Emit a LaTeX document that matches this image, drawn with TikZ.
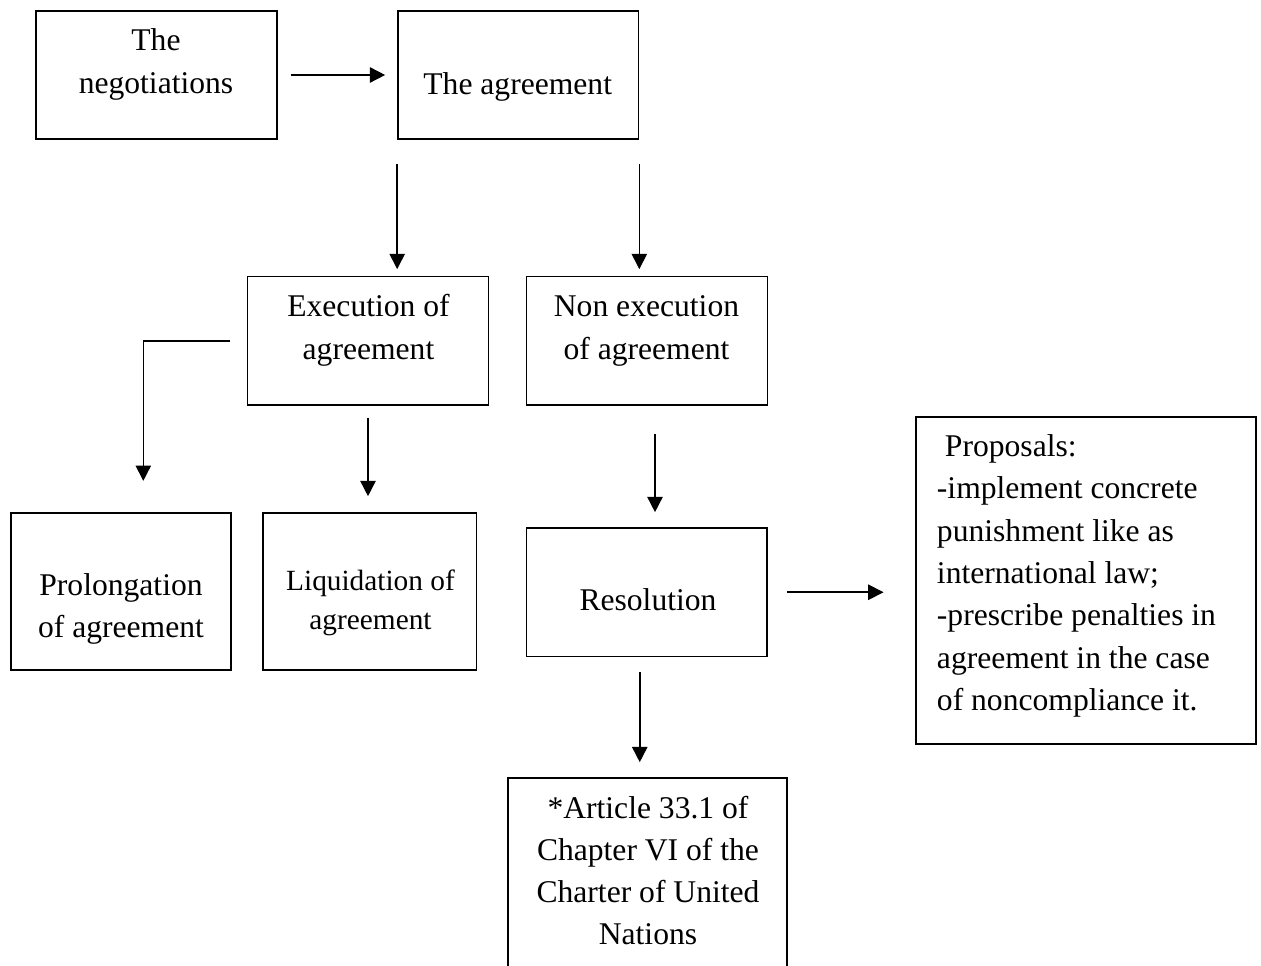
\documentclass[tikz,border=0pt]{standalone}
\usepackage{fontspec}
\setmainfont{Liberation Serif}
\usetikzlibrary{arrows.meta,calc}
\newcommand\ctr[1]{\vtop{\halign{\hfil##\hfil\cr#1\crcr}}}
\newcommand\lft[1]{\vtop{\halign{##\hfil\cr#1\crcr}}}
\begin{document}
\begin{tikzpicture}[x=0.75pt,y=-0.75pt,
  box/.style={draw, line width=1.2pt, rectangle, inner sep=0pt},
  txt/.style={inner sep=0pt, anchor=base, font=\fontsize{23.7}{31.7}\selectfont},
  sml/.style={inner sep=0pt, anchor=base, font=\fontsize{22}{29.3}\selectfont},
  arr/.style={line width=1.2pt, -{Triangle[length=11.5pt,width=11.5pt]}}]
\useasboundingbox (0,0) rectangle (1261,966);
\clip (0,0) rectangle (1261,966);
% boxes
\node[box, minimum width=180.75pt, minimum height=96pt] (neg) at (156.5,75) {};
\node[box, minimum width=180.4pt, minimum height=96pt] (agr) at (518.25,75) {};
\node[box, minimum width=180.75pt, minimum height=96.4pt] (exe) at (368,340.75) {};
\node[box, minimum width=180.75pt, minimum height=96.4pt] (non) at (647,340.75) {};
\node[box, minimum width=165pt, minimum height=117.75pt] (pro) at (121,591.5) {};
\node[box, minimum width=160.1pt, minimum height=117.75pt] (liq) at (369.75,591.5) {};
\node[box, minimum width=180.4pt, minimum height=96.4pt] (res) at (646.75,592.25) {};
\node[box, minimum width=255pt, minimum height=245.25pt] (prop) at (1086,580.5) {};
\node[box, minimum width=209.25pt, minimum height=166.5pt] (art) at (647.5,889) {};
% texts
\node[txt] (negt) at (156,51) {\ctr{The\cr negotiations}};
\node[txt] (agrt) at (517.7,95) {The agreement};
\node[txt] (exet) at (368.5,317) {\ctr{Execution of\cr agreement}};
\node[txt] (nont) at (646.5,317) {\ctr{Non execution\cr of agreement}};
\node[txt] (prot) at (121,595) {\ctr{Prolongation\cr of agreement}};
\node[sml] (liqt) at (370.5,590) {\ctr{Liquidation of\cr agreement}};
\node[txt] (rest) at (648,610.7) {Resolution};
\node[txt, anchor=base west] (propt) at (936.7,456.7) {\lft{\kern6pt Proposals:\cr -implement concrete\cr punishment like as\cr international law;\cr -prescribe penalties in\cr agreement in the case\cr of noncompliance it.}};
\node[txt] (artt) at (648,818) {\ctr{*Article 33.1 of\cr Chapter VI of the\cr Charter of United\cr Nations}};
% connectors
\draw[arr, shorten <=9.75pt, shorten >=9pt] (neg.east) -- (agr.west);
\draw[arr, shorten <=18pt, shorten >=4.9pt] (agr.south west) -- (agr.south west |- exe.north);
\draw[arr, shorten <=18pt, shorten >=4.9pt] (agr.south east) -- (agr.south east |- non.north);
\coordinate (pin) at ($(pro.north)+(22.3,0)$);
\draw[arr, shorten <=12.4pt, shorten >=23.5pt] (exe.west) -| (pin);
\draw[arr, shorten <=9pt, shorten >=12pt] (exe.south) -- (exe.south |- liq.north);
\coordinate (r1) at ($(non.south)+(8,0)$);
\draw[arr, shorten <=21pt, shorten >=11.25pt] (r1) -- (r1 |- res.north);
\draw[arr, shorten <=14.25pt, shorten >=23.75pt] (res.east) -- (prop.west |- res.east);
\coordinate (r2) at ($(res.south)+(-7,0)$);
\draw[arr, shorten <=10.9pt, shorten >=11.25pt] (r2) -- (r2 |- art.north);
\end{tikzpicture}
\end{document}
